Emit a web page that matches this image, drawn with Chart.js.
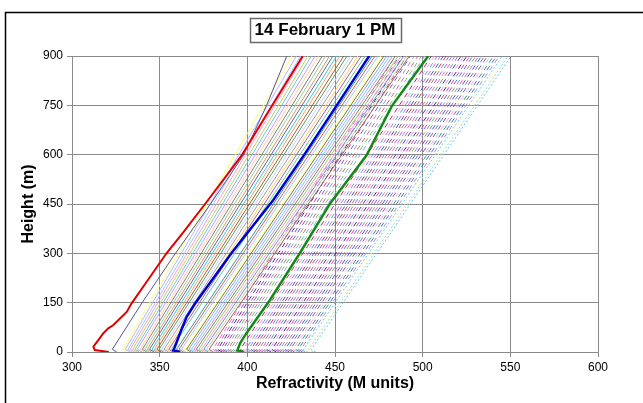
<!DOCTYPE html>
<html><head><meta charset="utf-8">
<script src="https://cdn.jsdelivr.net/npm/chart.js@4.4.0/dist/chart.umd.min.js"></script>
<style>html,body{margin:0;padding:0;background:#fff;}#wrap{width:643px;height:403px;position:relative}</style>
</head><body><div id="wrap"><canvas id="c" width="643" height="403"></canvas></div>
<script>
const chartTitle = '14 February 1 PM';
const xTitle = 'Refractivity (M units)';
const yTitle = 'Height (m)';
const xTicks = [300, 350, 400, 450, 500, 550, 600];
const yTicks = [0, 150, 300, 450, 600, 750, 900];

// highlighted profiles (height m -> refractivity M)
const redHeights   = [0, 6, 16, 36, 57, 72, 82, 102, 122, 148, 209, 301, 361, 450, 598, 747, 900];
const redValues    = [321, 313, 312.2, 315, 317.9, 320.7, 323.6, 327.4, 331.2, 334, 342, 354, 363, 375.9, 396.8, 413.9, 431.6];
const blueHeights  = [0, 5, 16, 57, 107, 150, 301, 462, 600, 750, 900];
const blueValues   = [361.5, 357.8, 358.7, 361.6, 365.4, 370.5, 391, 414.8, 432.5, 451, 469.5];
const greenHeights = [0, 5, 26, 58, 158, 301, 450, 598, 747, 900];
const greenValues  = [397.7, 394.3, 395.8, 399.6, 412.9, 430, 447, 468, 482.3, 503.2];
const navyHeights  = [0, 8, 150, 300, 450, 600, 750, 900];
const navyValues   = [325.5, 323, 340, 359, 379, 398, 411, 422.5];

// other profiles: value at surface, at 8 m and at 900 m
const profileHeights = [0, 8, 900];
const solidSurface = [331.5, 333.0, 334.4, 335.8, 337.2, 338.5, 340.0, 341.3, 342.7, 344.1, 345.4, 346.8, 348.2, 349.6, 351.0, 352.3, 353.7, 355.1, 356.4, 357.8, 359.2,
  362.2, 363.6, 365.0, 366.5, 367.8, 369.2, 370.6, 372.0, 373.5, 374.9, 376.3, 377.8, 379.2, 380.7];
const solidLow = [329.0, 330.4, 331.9, 333.2, 334.6, 336.0, 337.3, 338.8, 340.1, 341.5, 342.9, 344.2, 345.6, 347.0, 348.4, 349.7, 351.1, 352.5, 353.9, 355.2, 356.6,
  359.6, 361.0, 362.4, 363.9, 365.3, 366.6, 368.1, 369.5, 370.9, 372.3, 373.8, 375.2, 376.7, 378.2];
const solidTop = [425.5, 428.0, 430.3, 432.4, 434.6, 436.5, 438.7, 440.6, 442.8, 444.7, 446.9, 448.8, 450.9, 452.8, 455.0, 456.9, 459.0, 461.0, 463.1, 465.0, 467.2,
  471.2, 472.8, 474.6, 476.2, 477.9, 479.6, 481.2, 482.9, 484.5, 486.1, 487.8, 489.3, 490.9, 492.4];

const dashSurface = [382.8, 384.2, 385.6, 387.1, 388.5, 389.9, 391.4, 392.8, 394.3,
  398.5, 400.0, 401.5, 403.0, 404.5, 406.0, 407.5, 409.0, 410.5, 412.0, 413.5, 415.0, 416.5, 418.0, 419.5, 421.0, 422.5, 424.0, 425.5, 427.0, 428.5, 430.0, 431.5, 433.0, 434.5, 436.0, 437.5, 439.0];
const dashLow = [380.3, 381.7, 383.1, 384.6, 386.0, 387.4, 388.9, 390.3, 391.8,
  396.0, 397.5, 399.0, 400.5, 402.0, 403.5, 405.0, 406.5, 408.0, 409.5, 411.0, 412.5, 414.0, 415.5, 417.0, 418.5, 420.0, 421.5, 423.0, 424.5, 426.0, 427.5, 429.0, 430.5, 432.0, 433.5, 435.0, 436.5];
const dashTop = [484.5, 486.7, 488.8, 491.0, 493.1, 495.2, 497.3, 499.3, 501.2,
  505.0, 506.7, 508.4, 510.1, 511.8, 513.4, 515.1, 516.8, 518.5, 520.2, 521.9, 523.5, 525.2, 526.9, 528.6, 530.3, 532.0, 533.6, 535.3, 537.0, 538.7, 540.4, 542.1, 543.7, 545.4, 547.1, 548.8, 550.5];

// styles
const solidColors = ['#FFFF66', '#B3B3FF', '#99CCFF', '#FF99CC', '#CCCC66', '#66CCCC', '#CC99FF', '#FFCC99', '#808080', '#99CC99', '#CC9966',
  '#666699', '#33CCCC', '#FF9966', '#996633', '#669966', '#CCCCFF', '#A0A0A0', '#FFCC66', '#996699', '#66CC99',
  '#339999', '#CC6666', '#99CCFF', '#FFFF99', '#808000', '#9999FF', '#66CCFF', '#CC99CC', '#808080', '#99CC66', '#FF99CC', '#6699CC', '#CCCC99', '#996666'];
const dashColors = ['#FF66CC', '#9966CC', '#333399', '#CC3399', '#6666CC', '#999999', '#CC6699', '#66CC66', '#9999FF',
  '#993366', '#FF99CC', '#6699CC', '#CC66FF', '#336699', '#CC3366', '#808080', '#9966FF', '#FF6699', '#669999', '#663399', '#CC99FF',
  '#333366', '#FF3399', '#6666FF', '#999966', '#CC66CC', '#3366CC', '#996699', '#666699', '#FF99FF', '#339966', '#6666CC', '#9999CC',
  '#66CCFF', '#FFFF99', '#99CCFF', '#66CCCC'];

function pts(hs, vs) { return hs.map((h, i) => ({ x: vs[i], y: h })); }
const datasets = [];
datasets.push({ data: pts(redHeights, redValues), borderColor: '#E00000', borderWidth: 2, order: 0 });
datasets.push({ data: pts(blueHeights, blueValues), borderColor: '#0000D0', borderWidth: 2.5, order: 0 });
datasets.push({ data: pts(greenHeights, greenValues), borderColor: '#138A13', borderWidth: 2.5, order: 0 });
datasets.push({ data: pts(navyHeights, navyValues), borderColor: '#55558F', borderWidth: 1, order: 1 });
solidLow.forEach((v, i) => datasets.push({
  data: pts(profileHeights, [solidSurface[i], solidLow[i], solidTop[i]]),
  borderColor: solidColors[i % solidColors.length], borderWidth: 1, order: 1 }));
dashLow.forEach((v, i) => datasets.push({
  data: pts(profileHeights, [dashSurface[i], dashLow[i], dashTop[i]]),
  borderColor: dashColors[i % dashColors.length], borderWidth: 1,
  borderDash: i >= dashLow.length - 4 ? [2, 2] : [5, 4], order: 1 }));
datasets.forEach(d => { d.showLine = true; d.pointRadius = 0; d.tension = 0; d.fill = false; });

const FONT = '"Liberation Sans", Arial, sans-serif';
const frame = {
  id: 'frame',
  beforeDraw(chart) {
    const ctx = chart.ctx; ctx.save();
    ctx.fillStyle = '#fff'; ctx.fillRect(0, 0, chart.width, chart.height);
    ctx.strokeStyle = '#000'; ctx.lineWidth = 1.5;
    ctx.strokeRect(5.5, 12.5, chart.width + 20, chart.height + 20);
    ctx.restore();
  },
  afterDraw(chart) {
    const ctx = chart.ctx; ctx.save();
    ctx.font = 'bold 17px ' + FONT;
    const w = ctx.measureText(chartTitle).width;
    const cx = 325, cy = 29.5, bw = Math.round(w + 10), bh = 24;
    const x0 = Math.round(cx - bw / 2) + 0.5, y0 = Math.round(cy - bh / 2) + 0.5;
    ctx.fillStyle = '#fff'; ctx.fillRect(x0, y0, bw, bh);
    ctx.strokeStyle = '#6a6a6a'; ctx.lineWidth = 1.5; ctx.strokeRect(x0, y0, bw, bh);
    ctx.fillStyle = '#000'; ctx.textAlign = 'center'; ctx.textBaseline = 'middle';
    ctx.fillText(chartTitle, cx, cy + 1);
    ctx.restore();
  }
};

new Chart(document.getElementById('c'), {
  type: 'scatter',
  data: { datasets },
  plugins: [frame],
  options: {
    responsive: false, animation: false, events: [],
    layout: { padding: { top: 56, right: 45, left: 0, bottom: 0 } },
    plugins: { legend: { display: false }, tooltip: { enabled: false }, title: { display: false } },
    scales: {
      x: {
        type: 'linear', min: 300, max: 600,
        afterBuildTicks: s => { s.ticks = xTicks.map(v => ({ value: v })); },
        afterFit: s => { s.height = 51; },
        grid: { color: '#8a8a8a', lineWidth: 1, tickLength: 5, tickColor: '#8a8a8a' },
        border: { color: '#8a8a8a', width: 1 },
        ticks: { color: '#000', font: { family: FONT, size: 12 }, padding: 3, maxRotation: 0 },
        title: { display: true, text: xTitle, color: '#000', font: { family: FONT, size: 16, weight: 'bold' }, padding: { top: 0, bottom: 10 } }
      },
      y: {
        type: 'linear', min: 0, max: 900,
        afterBuildTicks: s => { s.ticks = yTicks.map(v => ({ value: v })); },
        afterFit: s => { s.width = 72; },
        grid: { color: '#8a8a8a', lineWidth: 1, tickLength: 5, tickColor: '#8a8a8a' },
        border: { color: '#8a8a8a', width: 1 },
        ticks: { color: '#000', font: { family: FONT, size: 12 }, padding: 4 },
        title: { display: true, text: yTitle, color: '#000', font: { family: FONT, size: 16, weight: 'bold' }, padding: { top: 19, bottom: 0 } }
      }
    }
  }
});
</script></body></html>
